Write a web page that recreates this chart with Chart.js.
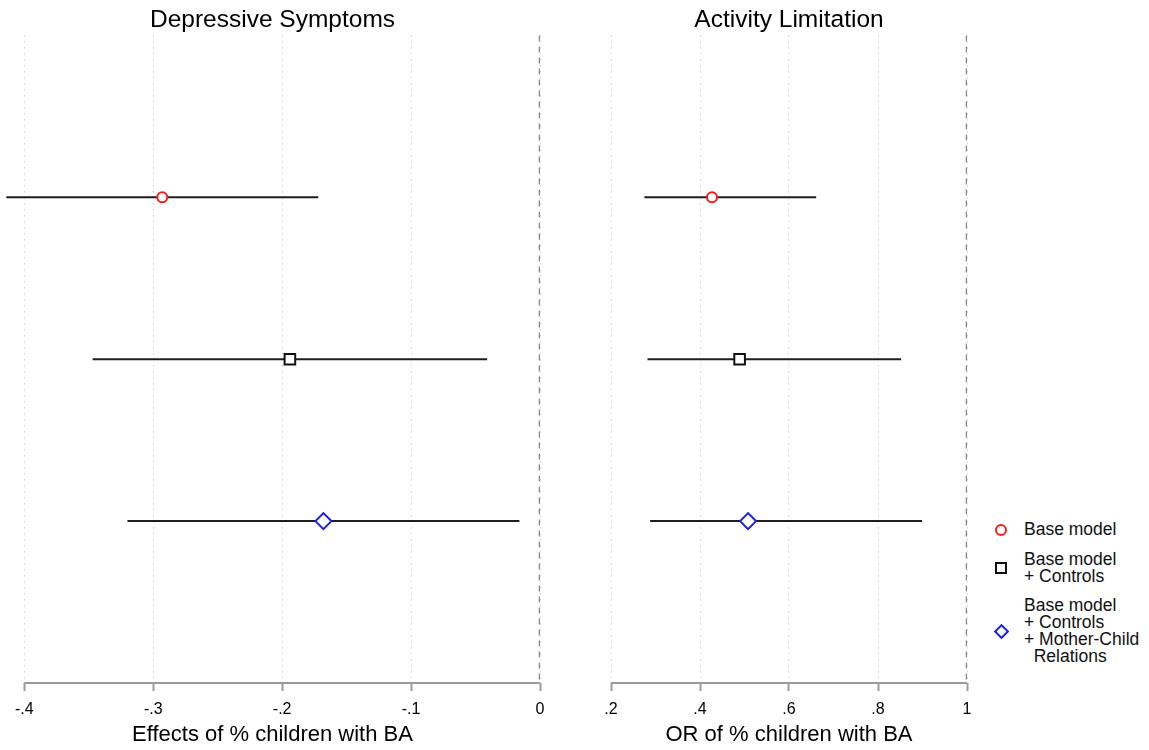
<!DOCTYPE html>
<html>
<head>
<meta charset="utf-8">
<script src="https://cdn.jsdelivr.net/npm/chart.js@4/dist/chart.umd.min.js"></script>
<style>
  body { margin: 0; background: #fff; font-family: "Liberation Sans", Arial, sans-serif; }
  #wrap { position: relative; width: 1149px; height: 750px; overflow: hidden; }
  #dep { position: absolute; left: -6px; top: 0; }
  #act { position: absolute; left: 560px; top: 0; }
  .leg { position: absolute; left: 1024px; font-size: 17.5px; line-height: 17px; color: #111; white-space: pre; }
  .mk { position: absolute; box-sizing: border-box; }
</style>
</head>
<body>
<div id="wrap">
  <canvas id="dep" width="566" height="750"></canvas>
  <canvas id="act" width="430" height="750"></canvas>
  <div class="mk" style="left:995px;top:524px;width:12px;height:12px;border:2px solid #ff1a1a;border-radius:50%;"></div>
  <div class="leg" style="top:521px;">Base model</div>
  <div class="mk" style="left:995px;top:562px;width:12px;height:12px;border:2px solid #111;"></div>
  <div class="leg" style="top:551px;">Base model
+ Controls</div>
  <div class="mk" style="left:996px;top:626px;width:11px;height:11px;border:2px solid #1a1aff;transform:rotate(45deg);"></div>
  <div class="leg" style="top:597px;">Base model
+ Controls
+ Mother-Child
  Relations</div>
</div>
<script>
// Models (rows), top to bottom
const models = ['Base model', 'Base model + Controls', 'Base model + Controls + Mother-Child Relations'];
const rows = [1, 2, 3];

// Depressive symptoms: estimates and 95% CI
const depEst = [-0.293, -0.194, -0.168];
const depLow = [-0.414, -0.347, -0.320];
const depHigh = [-0.172, -0.041, -0.016];
const depTicks = [-0.4, -0.3, -0.2, -0.1, 0];

// Activity limitation: odds ratios and 95% CI
const actEst = [0.427, 0.489, 0.508];
const actLow = [0.275, 0.282, 0.288];
const actHigh = [0.661, 0.852, 0.899];
const actTicks = [0.2, 0.4, 0.6, 0.8, 1];

const markerStyles = ['circle', 'rect', 'rectRot'];
const markerColors = ['#ff1a1a', '#111111', '#1a1aff'];
const markerRadius = [5, 7.5, 8];

const FONT = '"Liberation Sans", Arial, sans-serif';

function fmtTick(v) {
  const r = Math.round(v * 10) / 10;
  return String(r).replace(/^(-?)0\./, '$1.');
}

// axis line only between first and last tick (like Stata)
const axisLinePlugin = {
  id: 'axisLine',
  afterDraw(chart) {
    const sc = chart.scales.x;
    const ticks = sc.ticks;
    const ctx = chart.ctx;
    const y = chart.chartArea.bottom;
    ctx.save();
    ctx.strokeStyle = '#9a9a9a';
    ctx.lineWidth = 2;
    ctx.beginPath();
    ctx.moveTo(sc.getPixelForValue(ticks[0].value), y);
    ctx.lineTo(sc.getPixelForValue(ticks[ticks.length - 1].value), y);
    ctx.stroke();
    ctx.restore();
  }
};

function makePanel(canvasId, title, xTitle, est, low, high, ticks, refValue, xMin, xMax, padLeft, padRight) {
  const datasets = [];

  // markers
  rows.forEach((r, i) => {
    datasets.push({
      type: 'scatter',
      label: models[i],
      data: [{ x: est[i], y: r }],
      pointStyle: markerStyles[i],
      pointRadius: markerRadius[i],
      pointBorderWidth: 2,
      pointBorderColor: markerColors[i],
      pointBackgroundColor: '#ffffff',
      order: 0
    });
  });

  // confidence intervals
  rows.forEach((r, i) => {
    datasets.push({
      type: 'line',
      label: 'CI ' + (i + 1),
      data: [{ x: low[i], y: r }, { x: high[i], y: r }],
      borderColor: '#1e1e1e',
      borderWidth: 2,
      pointRadius: 0,
      order: 1
    });
  });

  // reference line
  datasets.push({
    type: 'line',
    label: 'ref',
    data: [{ x: refValue, y: 0 }, { x: refValue, y: 4 }],
    borderColor: '#858585',
    borderWidth: 2.5,
    borderDash: [6, 5],
    pointRadius: 0,
    order: 2
  });

  return new Chart(document.getElementById(canvasId), {
    data: { datasets: datasets },
    options: {
      responsive: false,
      animation: false,
      events: [],
      layout: { padding: { left: padLeft, right: padRight, top: 0, bottom: 0 } },
      plugins: {
        legend: { display: false },
        tooltip: { enabled: false },
        title: {
          display: true,
          text: title,
          color: '#000',
          font: { family: FONT, size: 24.5, weight: 'normal' },
          padding: { top: 6, bottom: 0 }
        }
      },
      scales: {
        x: {
          type: 'linear',
          min: xMin,
          max: xMax,
          afterBuildTicks(scale) {
            scale.ticks = ticks.map(v => ({ value: v }));
          },
          afterFit(scale) {
            scale.height = 67;
          },
          grid: {
            color: '#bdbdbd',
            lineWidth: 1,
            drawTicks: true,
            tickLength: 8,
            tickColor: '#9a9a9a',
            tickWidth: 2,
            tickBorderDash: []
          },
          border: { display: false, dash: [1, 5] },
          ticks: {
            color: '#000',
            padding: 9,
            maxRotation: 0,
            font: { family: FONT, size: 16 },
            callback: v => fmtTick(v)
          },
          title: {
            display: true,
            text: xTitle,
            color: '#000',
            font: { family: FONT, size: 22 },
            padding: { top: 0, bottom: 2 }
          }
        },
        y: {
          type: 'linear',
          min: 0,
          max: 4,
          reverse: true,
          display: false
        }
      }
    },
    plugins: [axisLinePlugin]
  });
}

makePanel('dep', 'Depressive Symptoms', 'Effects of % children with BA',
  depEst, depLow, depHigh, depTicks, 0, -0.415, 0, 11, 20);
makePanel('act', 'Activity Limitation', 'OR of % children with BA',
  actEst, actLow, actHigh, actTicks, 1, 0.2, 1, 51, 23);
</script>
</body>
</html>
